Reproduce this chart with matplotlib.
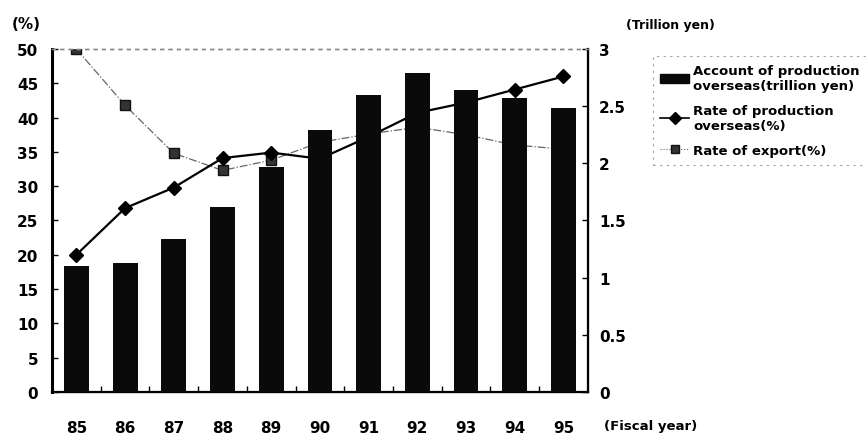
import matplotlib
matplotlib.use('Agg')
import matplotlib.pyplot as plt
from matplotlib.lines import Line2D
from matplotlib.patches import Patch
import numpy as np

years = ['85', '86', '87', '88', '89', '90', '91', '92', '93', '94', '95']
# trillion yen (right axis)
production_amount = [1.10, 1.13, 1.34, 1.62, 1.97, 2.29, 2.60, 2.79, 2.64, 2.57, 2.48]
# percent (left axis)
production_rate = [20.0, 26.8, 29.8, 34.1, 34.9, 34.0, 37.2, 40.7, 42.2, 44.1, 46.0]
export_rate = [50.0, 41.8, 34.8, 32.3, 33.8, 36.4, 37.6, 38.6, 37.5, 36.0, 35.4]

plt.rcParams['font.family'] = ['DejaVu Sans']
plt.rcParams['font.weight'] = 'bold'

fig = plt.figure(figsize=(8.67, 4.39), dpi=100)
ax = fig.add_axes([0.060, 0.105, 0.618, 0.781])
ax2 = ax.twinx()

x = np.arange(len(years))

# lines on the left axis, bars (right axis) drawn over them like the original
ax.plot(x, export_rate, color='#666666', linestyle='-.', linewidth=0.9,
        marker='s', markersize=7, markerfacecolor='#333333', markeredgecolor='#111111')
ax.plot(x, production_rate, color='black', linewidth=1.6,
        marker='D', markersize=7, markerfacecolor='black', markeredgecolor='black')
ax2.bar(x, production_amount, width=0.51, color='#0a0a0a')

ax.set_xlim(-0.5, 10.5)
ax.set_ylim(0, 50)
ax2.set_ylim(0, 3)
ax.set_yticks(range(0, 51, 5))
ax2.set_yticks([0, 0.5, 1, 1.5, 2, 2.5, 3])
ax2.set_yticklabels(['0', '0.5', '1', '1.5', '2', '2.5', '3'])
ax.set_xticks(x)
ax.set_xticklabels(years)
ax.set_xticks(np.arange(0.5, 10.5, 1), minor=True)

ax.tick_params(axis='x', which='major', length=0, pad=20, labelsize=11)
ax.tick_params(axis='x', which='minor', direction='in', length=4, width=1)
ax.tick_params(axis='y', direction='in', length=4, width=1, pad=10, labelsize=11)
ax2.tick_params(axis='y', direction='in', length=4, width=1, pad=8, labelsize=11)

for a in (ax, ax2):
    a.spines['top'].set_linestyle((0, (2, 4)))
    a.spines['top'].set_color('#888888')
    a.spines['top'].set_linewidth(1.0)
ax.spines['left'].set_linewidth(2.2)
ax.spines['bottom'].set_linewidth(1.6)
ax2.spines['right'].set_linewidth(1.6)

fig.text(0.014, 0.935, '(%)', fontsize=11, fontweight='bold')
fig.text(0.722, 0.935, '(Trillion yen)', fontsize=9, fontweight='bold')
fig.text(0.697, 0.02, '(Fiscal year)', fontsize=9.5, fontweight='bold')

handles = [
    Patch(facecolor='#0a0a0a', edgecolor='#0a0a0a'),
    Line2D([], [], color='black', linewidth=1.2, marker='D', markersize=6),
    Line2D([], [], color='#666666', linestyle=':', linewidth=0.8, marker='s', markersize=6,
           markerfacecolor='#333333', markeredgecolor='#111111'),
]
labels = ['Account of production\noverseas(trillion yen)',
          'Rate of production\noverseas(%)',
          'Rate of export(%)']
leg = fig.legend(handles, labels, loc='upper left', bbox_to_anchor=(0.745, 0.885),
                 frameon=True, fancybox=False, handlelength=2.2,
                 handletextpad=0.3, labelspacing=0.9, borderpad=0.6,
                 prop={'weight': 'bold', 'size': 9.5})
leg.get_frame().set_edgecolor('#888888')
leg.get_frame().set_linestyle((0, (2, 4)))
leg.get_frame().set_linewidth(0.8)

fig.savefig('out.png', dpi=100)
